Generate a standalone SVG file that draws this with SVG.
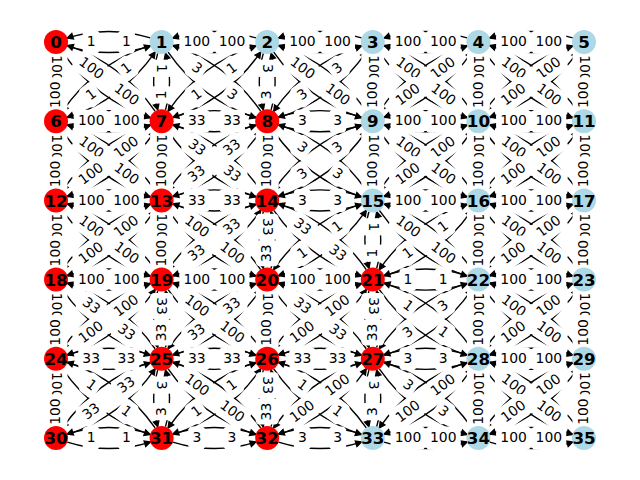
<svg xmlns="http://www.w3.org/2000/svg" xmlns:xlink="http://www.w3.org/1999/xlink" width="640" height="480" viewBox="0 0 640 480">
<style>
#labels text{font-family:"DejaVu Sans",sans-serif;font-size:13.9px;text-anchor:middle;fill:#000}
#nodes text{font-family:"DejaVu Sans",sans-serif;font-size:16.7px;font-weight:bold;text-anchor:middle;fill:#000}
.r{fill:#ff0000}
.b{fill:#add8e6}
</style>
<defs>
<marker id="ah" markerUnits="userSpaceOnUse" markerWidth="12" markerHeight="12" viewBox="-8 -6 12 12" refX="0" refY="0" orient="auto" overflow="visible"><path d="M0,0L-5.6,-2.8L-5.6,2.8Z" fill="#000" stroke="#000" stroke-width="1.39"/></marker>
<path id="eE" d="M11.3,4.04Q52.8,17.08 94.3,4.04" fill="none" stroke="#000" stroke-width="1.39" marker-end="url(#ah)"/>
<path id="eW" d="M-11.3,-4.04Q-52.8,-17.08 -94.3,-4.04" fill="none" stroke="#000" stroke-width="1.39" marker-end="url(#ah)"/>
<path id="eS" d="M-3.89,11.35Q-11.95,39.6 -3.89,67.85" fill="none" stroke="#000" stroke-width="1.39" marker-end="url(#ah)"/>
<path id="eN" d="M3.89,-11.35Q11.95,-39.6 3.89,-67.85" fill="none" stroke="#000" stroke-width="1.39" marker-end="url(#ah)"/>
<path id="eSE" d="M6.54,10.06Q39.43,57.42 94.11,75.74" fill="none" stroke="#000" stroke-width="1.39" marker-end="url(#ah)"/>
<path id="eNW" d="M-6.54,-10.06Q-39.43,-57.42 -94.11,-75.74" fill="none" stroke="#000" stroke-width="1.39" marker-end="url(#ah)"/>
<path id="eSW" d="M-11.49,3.46Q-66.17,21.78 -99.06,69.14" fill="none" stroke="#000" stroke-width="1.39" marker-end="url(#ah)"/>
<path id="eNE" d="M11.49,-3.46Q66.17,-21.78 99.06,-69.14" fill="none" stroke="#000" stroke-width="1.39" marker-end="url(#ah)"/>
<g id="rE"><use href="#eE" x="56"/><use href="#eE" x="161.6"/><use href="#eE" x="267.2"/><use href="#eE" x="372.8"/><use href="#eE" x="478.4"/></g>
<g id="rW"><use href="#eW" x="161.6"/><use href="#eW" x="267.2"/><use href="#eW" x="372.8"/><use href="#eW" x="478.4"/><use href="#eW" x="584"/></g>
<g id="rS"><use href="#eS" x="56"/><use href="#eS" x="161.6"/><use href="#eS" x="267.2"/><use href="#eS" x="372.8"/><use href="#eS" x="478.4"/><use href="#eS" x="584"/></g>
<g id="rN"><use href="#eN" x="56"/><use href="#eN" x="161.6"/><use href="#eN" x="267.2"/><use href="#eN" x="372.8"/><use href="#eN" x="478.4"/><use href="#eN" x="584"/></g>
<g id="rSE"><use href="#eSE" x="56"/><use href="#eSE" x="161.6"/><use href="#eSE" x="267.2"/><use href="#eSE" x="372.8"/><use href="#eSE" x="478.4"/></g>
<g id="rNW"><use href="#eNW" x="161.6"/><use href="#eNW" x="267.2"/><use href="#eNW" x="372.8"/><use href="#eNW" x="478.4"/><use href="#eNW" x="584"/></g>
<g id="rSW"><use href="#eSW" x="161.6"/><use href="#eSW" x="267.2"/><use href="#eSW" x="372.8"/><use href="#eSW" x="478.4"/><use href="#eSW" x="584"/></g>
<g id="rNE"><use href="#eNE" x="56"/><use href="#eNE" x="161.6"/><use href="#eNE" x="267.2"/><use href="#eNE" x="372.8"/><use href="#eNE" x="478.4"/></g>
<rect id="b1" x="-8.6" y="-11.5" width="17.2" height="23" rx="4.2" fill="#fff"/>
<rect id="b2" x="-13" y="-11.5" width="26" height="23" rx="4.2" fill="#fff"/>
<rect id="b3" x="-17.45" y="-11.5" width="34.9" height="23" rx="4.2" fill="#fff"/>
</defs>
<rect width="640" height="480" fill="#fff"/>
<g id="connectors">
<use href="#rE" y="42"/><use href="#rE" y="121.2"/><use href="#rE" y="200.4"/><use href="#rE" y="279.6"/><use href="#rE" y="358.8"/><use href="#rE" y="438"/>
<use href="#rW" y="42"/><use href="#rW" y="121.2"/><use href="#rW" y="200.4"/><use href="#rW" y="279.6"/><use href="#rW" y="358.8"/><use href="#rW" y="438"/>
<use href="#rS" y="42"/><use href="#rS" y="121.2"/><use href="#rS" y="200.4"/><use href="#rS" y="279.6"/><use href="#rS" y="358.8"/>
<use href="#rN" y="121.2"/><use href="#rN" y="200.4"/><use href="#rN" y="279.6"/><use href="#rN" y="358.8"/><use href="#rN" y="438"/>
<use href="#rSE" y="42"/><use href="#rSE" y="121.2"/><use href="#rSE" y="200.4"/><use href="#rSE" y="279.6"/><use href="#rSE" y="358.8"/>
<use href="#rNW" y="121.2"/><use href="#rNW" y="200.4"/><use href="#rNW" y="279.6"/><use href="#rNW" y="358.8"/><use href="#rNW" y="438"/>
<use href="#rSW" y="42"/><use href="#rSW" y="121.2"/><use href="#rSW" y="200.4"/><use href="#rSW" y="279.6"/><use href="#rSW" y="358.8"/>
<use href="#rNE" y="121.2"/><use href="#rNE" y="200.4"/><use href="#rNE" y="279.6"/><use href="#rNE" y="358.8"/><use href="#rNE" y="438"/>
</g>
<g id="labels">
<g transform="translate(91.2 42)"><use href="#b1"/><text y="4.2">1</text></g>
<g transform="translate(56 68.4)rotate(90)"><use href="#b3"/><text y="4.2">100</text></g>
<g transform="translate(91.2 68.4)rotate(36.87)"><use href="#b3"/><text y="4.2">100</text></g>
<g transform="translate(196.8 42)"><use href="#b3"/><text y="4.2">100</text></g>
<g transform="translate(126.4 42)"><use href="#b1"/><text y="4.2">1</text></g>
<g transform="translate(161.6 68.4)rotate(90)"><use href="#b1"/><text y="4.2">1</text></g>
<g transform="translate(196.8 68.4)rotate(36.87)"><use href="#b1"/><text y="4.2">3</text></g>
<g transform="translate(126.4 68.4)rotate(-36.87)"><use href="#b1"/><text y="4.2">1</text></g>
<g transform="translate(302.4 42)"><use href="#b3"/><text y="4.2">100</text></g>
<g transform="translate(232 42)"><use href="#b3"/><text y="4.2">100</text></g>
<g transform="translate(267.2 68.4)rotate(90)"><use href="#b1"/><text y="4.2">3</text></g>
<g transform="translate(302.4 68.4)rotate(36.87)"><use href="#b3"/><text y="4.2">100</text></g>
<g transform="translate(232 68.4)rotate(-36.87)"><use href="#b1"/><text y="4.2">1</text></g>
<g transform="translate(408 42)"><use href="#b3"/><text y="4.2">100</text></g>
<g transform="translate(337.6 42)"><use href="#b3"/><text y="4.2">100</text></g>
<g transform="translate(372.8 68.4)rotate(90)"><use href="#b3"/><text y="4.2">100</text></g>
<g transform="translate(408 68.4)rotate(36.87)"><use href="#b3"/><text y="4.2">100</text></g>
<g transform="translate(337.6 68.4)rotate(-36.87)"><use href="#b1"/><text y="4.2">3</text></g>
<g transform="translate(513.6 42)"><use href="#b3"/><text y="4.2">100</text></g>
<g transform="translate(443.2 42)"><use href="#b3"/><text y="4.2">100</text></g>
<g transform="translate(478.4 68.4)rotate(90)"><use href="#b3"/><text y="4.2">100</text></g>
<g transform="translate(513.6 68.4)rotate(36.87)"><use href="#b3"/><text y="4.2">100</text></g>
<g transform="translate(443.2 68.4)rotate(-36.87)"><use href="#b3"/><text y="4.2">100</text></g>
<g transform="translate(548.8 42)"><use href="#b3"/><text y="4.2">100</text></g>
<g transform="translate(584 68.4)rotate(90)"><use href="#b3"/><text y="4.2">100</text></g>
<g transform="translate(548.8 68.4)rotate(-36.87)"><use href="#b3"/><text y="4.2">100</text></g>

<g transform="translate(91.2 121.2)"><use href="#b3"/><text y="4.2">100</text></g>
<g transform="translate(56 147.6)rotate(90)"><use href="#b3"/><text y="4.2">100</text></g>
<g transform="translate(56 94.8)rotate(-90)"><use href="#b3"/><text y="4.2">100</text></g>
<g transform="translate(91.2 147.6)rotate(36.87)"><use href="#b3"/><text y="4.2">100</text></g>
<g transform="translate(91.2 94.8)rotate(-36.87)"><use href="#b1"/><text y="4.2">1</text></g>
<g transform="translate(196.8 121.2)"><use href="#b2"/><text y="4.2">33</text></g>
<g transform="translate(126.4 121.2)"><use href="#b3"/><text y="4.2">100</text></g>
<g transform="translate(161.6 147.6)rotate(90)"><use href="#b3"/><text y="4.2">100</text></g>
<g transform="translate(161.6 94.8)rotate(-90)"><use href="#b1"/><text y="4.2">1</text></g>
<g transform="translate(196.8 147.6)rotate(36.87)"><use href="#b2"/><text y="4.2">33</text></g>
<g transform="translate(126.4 94.8)rotate(36.87)"><use href="#b3"/><text y="4.2">100</text></g>
<g transform="translate(126.4 147.6)rotate(-36.87)"><use href="#b3"/><text y="4.2">100</text></g>
<g transform="translate(196.8 94.8)rotate(-36.87)"><use href="#b1"/><text y="4.2">1</text></g>
<g transform="translate(302.4 121.2)"><use href="#b1"/><text y="4.2">3</text></g>
<g transform="translate(232 121.2)"><use href="#b2"/><text y="4.2">33</text></g>
<g transform="translate(267.2 147.6)rotate(90)"><use href="#b3"/><text y="4.2">100</text></g>
<g transform="translate(267.2 94.8)rotate(-90)"><use href="#b1"/><text y="4.2">3</text></g>
<g transform="translate(302.4 147.6)rotate(36.87)"><use href="#b1"/><text y="4.2">3</text></g>
<g transform="translate(232 94.8)rotate(36.87)"><use href="#b1"/><text y="4.2">3</text></g>
<g transform="translate(232 147.6)rotate(-36.87)"><use href="#b2"/><text y="4.2">33</text></g>
<g transform="translate(302.4 94.8)rotate(-36.87)"><use href="#b1"/><text y="4.2">3</text></g>
<g transform="translate(408 121.2)"><use href="#b3"/><text y="4.2">100</text></g>
<g transform="translate(337.6 121.2)"><use href="#b1"/><text y="4.2">3</text></g>
<g transform="translate(372.8 147.6)rotate(90)"><use href="#b3"/><text y="4.2">100</text></g>
<g transform="translate(372.8 94.8)rotate(-90)"><use href="#b3"/><text y="4.2">100</text></g>
<g transform="translate(408 147.6)rotate(36.87)"><use href="#b3"/><text y="4.2">100</text></g>
<g transform="translate(337.6 94.8)rotate(36.87)"><use href="#b3"/><text y="4.2">100</text></g>
<g transform="translate(337.6 147.6)rotate(-36.87)"><use href="#b1"/><text y="4.2">3</text></g>
<g transform="translate(408 94.8)rotate(-36.87)"><use href="#b3"/><text y="4.2">100</text></g>
<g transform="translate(513.6 121.2)"><use href="#b3"/><text y="4.2">100</text></g>
<g transform="translate(443.2 121.2)"><use href="#b3"/><text y="4.2">100</text></g>
<g transform="translate(478.4 147.6)rotate(90)"><use href="#b3"/><text y="4.2">100</text></g>
<g transform="translate(478.4 94.8)rotate(-90)"><use href="#b3"/><text y="4.2">100</text></g>
<g transform="translate(513.6 147.6)rotate(36.87)"><use href="#b3"/><text y="4.2">100</text></g>
<g transform="translate(443.2 94.8)rotate(36.87)"><use href="#b3"/><text y="4.2">100</text></g>
<g transform="translate(443.2 147.6)rotate(-36.87)"><use href="#b3"/><text y="4.2">100</text></g>
<g transform="translate(513.6 94.8)rotate(-36.87)"><use href="#b3"/><text y="4.2">100</text></g>
<g transform="translate(548.8 121.2)"><use href="#b3"/><text y="4.2">100</text></g>
<g transform="translate(584 147.6)rotate(90)"><use href="#b3"/><text y="4.2">100</text></g>
<g transform="translate(584 94.8)rotate(-90)"><use href="#b3"/><text y="4.2">100</text></g>
<g transform="translate(548.8 94.8)rotate(36.87)"><use href="#b3"/><text y="4.2">100</text></g>
<g transform="translate(548.8 147.6)rotate(-36.87)"><use href="#b3"/><text y="4.2">100</text></g>

<g transform="translate(91.2 200.4)"><use href="#b3"/><text y="4.2">100</text></g>
<g transform="translate(56 226.8)rotate(90)"><use href="#b3"/><text y="4.2">100</text></g>
<g transform="translate(56 174)rotate(-90)"><use href="#b3"/><text y="4.2">100</text></g>
<g transform="translate(91.2 226.8)rotate(36.87)"><use href="#b3"/><text y="4.2">100</text></g>
<g transform="translate(91.2 174)rotate(-36.87)"><use href="#b3"/><text y="4.2">100</text></g>
<g transform="translate(196.8 200.4)"><use href="#b2"/><text y="4.2">33</text></g>
<g transform="translate(126.4 200.4)"><use href="#b3"/><text y="4.2">100</text></g>
<g transform="translate(161.6 226.8)rotate(90)"><use href="#b3"/><text y="4.2">100</text></g>
<g transform="translate(161.6 174)rotate(-90)"><use href="#b3"/><text y="4.2">100</text></g>
<g transform="translate(196.8 226.8)rotate(36.87)"><use href="#b3"/><text y="4.2">100</text></g>
<g transform="translate(126.4 174)rotate(36.87)"><use href="#b3"/><text y="4.2">100</text></g>
<g transform="translate(126.4 226.8)rotate(-36.87)"><use href="#b3"/><text y="4.2">100</text></g>
<g transform="translate(196.8 174)rotate(-36.87)"><use href="#b2"/><text y="4.2">33</text></g>
<g transform="translate(302.4 200.4)"><use href="#b1"/><text y="4.2">3</text></g>
<g transform="translate(232 200.4)"><use href="#b2"/><text y="4.2">33</text></g>
<g transform="translate(267.2 226.8)rotate(90)"><use href="#b2"/><text y="4.2">33</text></g>
<g transform="translate(267.2 174)rotate(-90)"><use href="#b3"/><text y="4.2">100</text></g>
<g transform="translate(302.4 226.8)rotate(36.87)"><use href="#b2"/><text y="4.2">33</text></g>
<g transform="translate(232 174)rotate(36.87)"><use href="#b2"/><text y="4.2">33</text></g>
<g transform="translate(232 226.8)rotate(-36.87)"><use href="#b2"/><text y="4.2">33</text></g>
<g transform="translate(302.4 174)rotate(-36.87)"><use href="#b1"/><text y="4.2">3</text></g>
<g transform="translate(408 200.4)"><use href="#b3"/><text y="4.2">100</text></g>
<g transform="translate(337.6 200.4)"><use href="#b1"/><text y="4.2">3</text></g>
<g transform="translate(372.8 226.8)rotate(90)"><use href="#b1"/><text y="4.2">1</text></g>
<g transform="translate(372.8 174)rotate(-90)"><use href="#b3"/><text y="4.2">100</text></g>
<g transform="translate(408 226.8)rotate(36.87)"><use href="#b3"/><text y="4.2">100</text></g>
<g transform="translate(337.6 174)rotate(36.87)"><use href="#b1"/><text y="4.2">3</text></g>
<g transform="translate(337.6 226.8)rotate(-36.87)"><use href="#b1"/><text y="4.2">1</text></g>
<g transform="translate(408 174)rotate(-36.87)"><use href="#b3"/><text y="4.2">100</text></g>
<g transform="translate(513.6 200.4)"><use href="#b3"/><text y="4.2">100</text></g>
<g transform="translate(443.2 200.4)"><use href="#b3"/><text y="4.2">100</text></g>
<g transform="translate(478.4 226.8)rotate(90)"><use href="#b3"/><text y="4.2">100</text></g>
<g transform="translate(478.4 174)rotate(-90)"><use href="#b3"/><text y="4.2">100</text></g>
<g transform="translate(513.6 226.8)rotate(36.87)"><use href="#b3"/><text y="4.2">100</text></g>
<g transform="translate(443.2 174)rotate(36.87)"><use href="#b3"/><text y="4.2">100</text></g>
<g transform="translate(443.2 226.8)rotate(-36.87)"><use href="#b1"/><text y="4.2">1</text></g>
<g transform="translate(513.6 174)rotate(-36.87)"><use href="#b3"/><text y="4.2">100</text></g>
<g transform="translate(548.8 200.4)"><use href="#b3"/><text y="4.2">100</text></g>
<g transform="translate(584 226.8)rotate(90)"><use href="#b3"/><text y="4.2">100</text></g>
<g transform="translate(584 174)rotate(-90)"><use href="#b3"/><text y="4.2">100</text></g>
<g transform="translate(548.8 174)rotate(36.87)"><use href="#b3"/><text y="4.2">100</text></g>
<g transform="translate(548.8 226.8)rotate(-36.87)"><use href="#b3"/><text y="4.2">100</text></g>

<g transform="translate(91.2 279.6)"><use href="#b3"/><text y="4.2">100</text></g>
<g transform="translate(56 306)rotate(90)"><use href="#b3"/><text y="4.2">100</text></g>
<g transform="translate(56 253.2)rotate(-90)"><use href="#b3"/><text y="4.2">100</text></g>
<g transform="translate(91.2 306)rotate(36.87)"><use href="#b2"/><text y="4.2">33</text></g>
<g transform="translate(91.2 253.2)rotate(-36.87)"><use href="#b3"/><text y="4.2">100</text></g>
<g transform="translate(196.8 279.6)"><use href="#b3"/><text y="4.2">100</text></g>
<g transform="translate(126.4 279.6)"><use href="#b3"/><text y="4.2">100</text></g>
<g transform="translate(161.6 306)rotate(90)"><use href="#b2"/><text y="4.2">33</text></g>
<g transform="translate(161.6 253.2)rotate(-90)"><use href="#b3"/><text y="4.2">100</text></g>
<g transform="translate(196.8 306)rotate(36.87)"><use href="#b3"/><text y="4.2">100</text></g>
<g transform="translate(126.4 253.2)rotate(36.87)"><use href="#b3"/><text y="4.2">100</text></g>
<g transform="translate(126.4 306)rotate(-36.87)"><use href="#b3"/><text y="4.2">100</text></g>
<g transform="translate(196.8 253.2)rotate(-36.87)"><use href="#b2"/><text y="4.2">33</text></g>
<g transform="translate(302.4 279.6)"><use href="#b3"/><text y="4.2">100</text></g>
<g transform="translate(232 279.6)"><use href="#b3"/><text y="4.2">100</text></g>
<g transform="translate(267.2 306)rotate(90)"><use href="#b3"/><text y="4.2">100</text></g>
<g transform="translate(267.2 253.2)rotate(-90)"><use href="#b2"/><text y="4.2">33</text></g>
<g transform="translate(302.4 306)rotate(36.87)"><use href="#b2"/><text y="4.2">33</text></g>
<g transform="translate(232 253.2)rotate(36.87)"><use href="#b3"/><text y="4.2">100</text></g>
<g transform="translate(232 306)rotate(-36.87)"><use href="#b2"/><text y="4.2">33</text></g>
<g transform="translate(302.4 253.2)rotate(-36.87)"><use href="#b1"/><text y="4.2">1</text></g>
<g transform="translate(408 279.6)"><use href="#b1"/><text y="4.2">1</text></g>
<g transform="translate(337.6 279.6)"><use href="#b3"/><text y="4.2">100</text></g>
<g transform="translate(372.8 306)rotate(90)"><use href="#b2"/><text y="4.2">33</text></g>
<g transform="translate(372.8 253.2)rotate(-90)"><use href="#b1"/><text y="4.2">1</text></g>
<g transform="translate(408 306)rotate(36.87)"><use href="#b1"/><text y="4.2">1</text></g>
<g transform="translate(337.6 253.2)rotate(36.87)"><use href="#b2"/><text y="4.2">33</text></g>
<g transform="translate(337.6 306)rotate(-36.87)"><use href="#b3"/><text y="4.2">100</text></g>
<g transform="translate(408 253.2)rotate(-36.87)"><use href="#b1"/><text y="4.2">1</text></g>
<g transform="translate(513.6 279.6)"><use href="#b3"/><text y="4.2">100</text></g>
<g transform="translate(443.2 279.6)"><use href="#b1"/><text y="4.2">1</text></g>
<g transform="translate(478.4 306)rotate(90)"><use href="#b3"/><text y="4.2">100</text></g>
<g transform="translate(478.4 253.2)rotate(-90)"><use href="#b3"/><text y="4.2">100</text></g>
<g transform="translate(513.6 306)rotate(36.87)"><use href="#b3"/><text y="4.2">100</text></g>
<g transform="translate(443.2 253.2)rotate(36.87)"><use href="#b3"/><text y="4.2">100</text></g>
<g transform="translate(443.2 306)rotate(-36.87)"><use href="#b1"/><text y="4.2">3</text></g>
<g transform="translate(513.6 253.2)rotate(-36.87)"><use href="#b3"/><text y="4.2">100</text></g>
<g transform="translate(548.8 279.6)"><use href="#b3"/><text y="4.2">100</text></g>
<g transform="translate(584 306)rotate(90)"><use href="#b3"/><text y="4.2">100</text></g>
<g transform="translate(584 253.2)rotate(-90)"><use href="#b3"/><text y="4.2">100</text></g>
<g transform="translate(548.8 253.2)rotate(36.87)"><use href="#b3"/><text y="4.2">100</text></g>
<g transform="translate(548.8 306)rotate(-36.87)"><use href="#b3"/><text y="4.2">100</text></g>

<g transform="translate(91.2 358.8)"><use href="#b2"/><text y="4.2">33</text></g>
<g transform="translate(56 385.2)rotate(90)"><use href="#b3"/><text y="4.2">100</text></g>
<g transform="translate(56 332.4)rotate(-90)"><use href="#b3"/><text y="4.2">100</text></g>
<g transform="translate(91.2 385.2)rotate(36.87)"><use href="#b1"/><text y="4.2">1</text></g>
<g transform="translate(91.2 332.4)rotate(-36.87)"><use href="#b3"/><text y="4.2">100</text></g>
<g transform="translate(196.8 358.8)"><use href="#b2"/><text y="4.2">33</text></g>
<g transform="translate(126.4 358.8)"><use href="#b2"/><text y="4.2">33</text></g>
<g transform="translate(161.6 385.2)rotate(90)"><use href="#b1"/><text y="4.2">3</text></g>
<g transform="translate(161.6 332.4)rotate(-90)"><use href="#b2"/><text y="4.2">33</text></g>
<g transform="translate(196.8 385.2)rotate(36.87)"><use href="#b3"/><text y="4.2">100</text></g>
<g transform="translate(126.4 332.4)rotate(36.87)"><use href="#b2"/><text y="4.2">33</text></g>
<g transform="translate(126.4 385.2)rotate(-36.87)"><use href="#b2"/><text y="4.2">33</text></g>
<g transform="translate(196.8 332.4)rotate(-36.87)"><use href="#b2"/><text y="4.2">33</text></g>
<g transform="translate(302.4 358.8)"><use href="#b2"/><text y="4.2">33</text></g>
<g transform="translate(232 358.8)"><use href="#b2"/><text y="4.2">33</text></g>
<g transform="translate(267.2 385.2)rotate(90)"><use href="#b2"/><text y="4.2">33</text></g>
<g transform="translate(267.2 332.4)rotate(-90)"><use href="#b3"/><text y="4.2">100</text></g>
<g transform="translate(302.4 385.2)rotate(36.87)"><use href="#b1"/><text y="4.2">1</text></g>
<g transform="translate(232 332.4)rotate(36.87)"><use href="#b3"/><text y="4.2">100</text></g>
<g transform="translate(232 385.2)rotate(-36.87)"><use href="#b1"/><text y="4.2">1</text></g>
<g transform="translate(302.4 332.4)rotate(-36.87)"><use href="#b3"/><text y="4.2">100</text></g>
<g transform="translate(408 358.8)"><use href="#b1"/><text y="4.2">3</text></g>
<g transform="translate(337.6 358.8)"><use href="#b2"/><text y="4.2">33</text></g>
<g transform="translate(372.8 385.2)rotate(90)"><use href="#b1"/><text y="4.2">3</text></g>
<g transform="translate(372.8 332.4)rotate(-90)"><use href="#b2"/><text y="4.2">33</text></g>
<g transform="translate(408 385.2)rotate(36.87)"><use href="#b1"/><text y="4.2">3</text></g>
<g transform="translate(337.6 332.4)rotate(36.87)"><use href="#b2"/><text y="4.2">33</text></g>
<g transform="translate(337.6 385.2)rotate(-36.87)"><use href="#b3"/><text y="4.2">100</text></g>
<g transform="translate(408 332.4)rotate(-36.87)"><use href="#b1"/><text y="4.2">3</text></g>
<g transform="translate(513.6 358.8)"><use href="#b3"/><text y="4.2">100</text></g>
<g transform="translate(443.2 358.8)"><use href="#b1"/><text y="4.2">3</text></g>
<g transform="translate(478.4 385.2)rotate(90)"><use href="#b3"/><text y="4.2">100</text></g>
<g transform="translate(478.4 332.4)rotate(-90)"><use href="#b3"/><text y="4.2">100</text></g>
<g transform="translate(513.6 385.2)rotate(36.87)"><use href="#b3"/><text y="4.2">100</text></g>
<g transform="translate(443.2 332.4)rotate(36.87)"><use href="#b1"/><text y="4.2">1</text></g>
<g transform="translate(443.2 385.2)rotate(-36.87)"><use href="#b3"/><text y="4.2">100</text></g>
<g transform="translate(513.6 332.4)rotate(-36.87)"><use href="#b3"/><text y="4.2">100</text></g>
<g transform="translate(548.8 358.8)"><use href="#b3"/><text y="4.2">100</text></g>
<g transform="translate(584 385.2)rotate(90)"><use href="#b3"/><text y="4.2">100</text></g>
<g transform="translate(584 332.4)rotate(-90)"><use href="#b3"/><text y="4.2">100</text></g>
<g transform="translate(548.8 332.4)rotate(36.87)"><use href="#b3"/><text y="4.2">100</text></g>
<g transform="translate(548.8 385.2)rotate(-36.87)"><use href="#b3"/><text y="4.2">100</text></g>

<g transform="translate(91.2 438)"><use href="#b1"/><text y="4.2">1</text></g>
<g transform="translate(56 411.6)rotate(-90)"><use href="#b3"/><text y="4.2">100</text></g>
<g transform="translate(91.2 411.6)rotate(-36.87)"><use href="#b2"/><text y="4.2">33</text></g>
<g transform="translate(196.8 438)"><use href="#b1"/><text y="4.2">3</text></g>
<g transform="translate(126.4 438)"><use href="#b1"/><text y="4.2">1</text></g>
<g transform="translate(161.6 411.6)rotate(-90)"><use href="#b1"/><text y="4.2">3</text></g>
<g transform="translate(126.4 411.6)rotate(36.87)"><use href="#b1"/><text y="4.2">1</text></g>
<g transform="translate(196.8 411.6)rotate(-36.87)"><use href="#b1"/><text y="4.2">1</text></g>
<g transform="translate(302.4 438)"><use href="#b1"/><text y="4.2">3</text></g>
<g transform="translate(232 438)"><use href="#b1"/><text y="4.2">3</text></g>
<g transform="translate(267.2 411.6)rotate(-90)"><use href="#b2"/><text y="4.2">33</text></g>
<g transform="translate(232 411.6)rotate(36.87)"><use href="#b3"/><text y="4.2">100</text></g>
<g transform="translate(302.4 411.6)rotate(-36.87)"><use href="#b3"/><text y="4.2">100</text></g>
<g transform="translate(408 438)"><use href="#b3"/><text y="4.2">100</text></g>
<g transform="translate(337.6 438)"><use href="#b1"/><text y="4.2">3</text></g>
<g transform="translate(372.8 411.6)rotate(-90)"><use href="#b1"/><text y="4.2">3</text></g>
<g transform="translate(337.6 411.6)rotate(36.87)"><use href="#b1"/><text y="4.2">1</text></g>
<g transform="translate(408 411.6)rotate(-36.87)"><use href="#b3"/><text y="4.2">100</text></g>
<g transform="translate(513.6 438)"><use href="#b3"/><text y="4.2">100</text></g>
<g transform="translate(443.2 438)"><use href="#b3"/><text y="4.2">100</text></g>
<g transform="translate(478.4 411.6)rotate(-90)"><use href="#b3"/><text y="4.2">100</text></g>
<g transform="translate(443.2 411.6)rotate(36.87)"><use href="#b1"/><text y="4.2">3</text></g>
<g transform="translate(513.6 411.6)rotate(-36.87)"><use href="#b3"/><text y="4.2">100</text></g>
<g transform="translate(548.8 438)"><use href="#b3"/><text y="4.2">100</text></g>
<g transform="translate(584 411.6)rotate(-90)"><use href="#b3"/><text y="4.2">100</text></g>
<g transform="translate(548.8 411.6)rotate(36.87)"><use href="#b3"/><text y="4.2">100</text></g>
</g>
<g id="nodes">
<g id="n0"><circle class="r" cx="56" cy="42" r="12"/><text x="56" y="48.1">0</text></g>
<g id="n1"><circle class="b" cx="161.6" cy="42" r="12"/><text x="161.6" y="48.1">1</text></g>
<g id="n2"><circle class="b" cx="267.2" cy="42" r="12"/><text x="267.2" y="48.1">2</text></g>
<g id="n3"><circle class="b" cx="372.8" cy="42" r="12"/><text x="372.8" y="48.1">3</text></g>
<g id="n4"><circle class="b" cx="478.4" cy="42" r="12"/><text x="478.4" y="48.1">4</text></g>
<g id="n5"><circle class="b" cx="584" cy="42" r="12"/><text x="584" y="48.1">5</text></g>
<g id="n6"><circle class="r" cx="56" cy="121.2" r="12"/><text x="56" y="127.3">6</text></g>
<g id="n7"><circle class="r" cx="161.6" cy="121.2" r="12"/><text x="161.6" y="127.3">7</text></g>
<g id="n8"><circle class="r" cx="267.2" cy="121.2" r="12"/><text x="267.2" y="127.3">8</text></g>
<g id="n9"><circle class="b" cx="372.8" cy="121.2" r="12"/><text x="372.8" y="127.3">9</text></g>
<g id="n10"><circle class="b" cx="478.4" cy="121.2" r="12"/><text x="478.4" y="127.3">10</text></g>
<g id="n11"><circle class="b" cx="584" cy="121.2" r="12"/><text x="584" y="127.3">11</text></g>
<g id="n12"><circle class="r" cx="56" cy="200.4" r="12"/><text x="56" y="206.5">12</text></g>
<g id="n13"><circle class="r" cx="161.6" cy="200.4" r="12"/><text x="161.6" y="206.5">13</text></g>
<g id="n14"><circle class="r" cx="267.2" cy="200.4" r="12"/><text x="267.2" y="206.5">14</text></g>
<g id="n15"><circle class="b" cx="372.8" cy="200.4" r="12"/><text x="372.8" y="206.5">15</text></g>
<g id="n16"><circle class="b" cx="478.4" cy="200.4" r="12"/><text x="478.4" y="206.5">16</text></g>
<g id="n17"><circle class="b" cx="584" cy="200.4" r="12"/><text x="584" y="206.5">17</text></g>
<g id="n18"><circle class="r" cx="56" cy="279.6" r="12"/><text x="56" y="285.7">18</text></g>
<g id="n19"><circle class="r" cx="161.6" cy="279.6" r="12"/><text x="161.6" y="285.7">19</text></g>
<g id="n20"><circle class="r" cx="267.2" cy="279.6" r="12"/><text x="267.2" y="285.7">20</text></g>
<g id="n21"><circle class="r" cx="372.8" cy="279.6" r="12"/><text x="372.8" y="285.7">21</text></g>
<g id="n22"><circle class="b" cx="478.4" cy="279.6" r="12"/><text x="478.4" y="285.7">22</text></g>
<g id="n23"><circle class="b" cx="584" cy="279.6" r="12"/><text x="584" y="285.7">23</text></g>
<g id="n24"><circle class="r" cx="56" cy="358.8" r="12"/><text x="56" y="364.9">24</text></g>
<g id="n25"><circle class="r" cx="161.6" cy="358.8" r="12"/><text x="161.6" y="364.9">25</text></g>
<g id="n26"><circle class="r" cx="267.2" cy="358.8" r="12"/><text x="267.2" y="364.9">26</text></g>
<g id="n27"><circle class="r" cx="372.8" cy="358.8" r="12"/><text x="372.8" y="364.9">27</text></g>
<g id="n28"><circle class="b" cx="478.4" cy="358.8" r="12"/><text x="478.4" y="364.9">28</text></g>
<g id="n29"><circle class="b" cx="584" cy="358.8" r="12"/><text x="584" y="364.9">29</text></g>
<g id="n30"><circle class="r" cx="56" cy="438" r="12"/><text x="56" y="444.1">30</text></g>
<g id="n31"><circle class="r" cx="161.6" cy="438" r="12"/><text x="161.6" y="444.1">31</text></g>
<g id="n32"><circle class="r" cx="267.2" cy="438" r="12"/><text x="267.2" y="444.1">32</text></g>
<g id="n33"><circle class="b" cx="372.8" cy="438" r="12"/><text x="372.8" y="444.1">33</text></g>
<g id="n34"><circle class="b" cx="478.4" cy="438" r="12"/><text x="478.4" y="444.1">34</text></g>
<g id="n35"><circle class="b" cx="584" cy="438" r="12"/><text x="584" y="444.1">35</text></g>
</g>
</svg>
